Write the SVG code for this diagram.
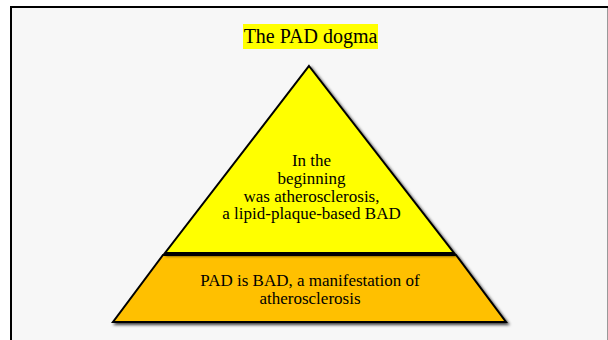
<svg xmlns="http://www.w3.org/2000/svg" width="608" height="340" viewBox="0 0 608 340">
  <defs>
    <filter id="shadow" x="-10%" y="-10%" width="120%" height="120%">
      <feDropShadow dx="2" dy="2" stdDeviation="1.5" flood-color="#000" flood-opacity="0.75"/>
    </filter>
  </defs>
  <style>
    .t { font-family: "Liberation Serif", "Times New Roman", serif; fill: #000; text-anchor: middle; }
    .body { font-size: 17px; }
    .shape { stroke: #000; stroke-width: 2; stroke-linejoin: miter; filter: url(#shadow); }
  </style>
  <rect x="0" y="0" width="608" height="340" fill="#ffffff"/>
  <rect x="11" y="7" width="596" height="340" fill="#f7f7f7"/>
  <line x1="10" y1="7" x2="608" y2="7" stroke="#000" stroke-width="2"/>
  <line x1="11" y1="6" x2="11" y2="340" stroke="#000" stroke-width="2"/>
  <line x1="607.5" y1="8" x2="607.5" y2="340" stroke="#999" stroke-width="1"/>

  <g id="title">
    <rect x="243" y="24" width="135" height="25" fill="#ffff00"/>
    <text class="t" x="310.5" y="43" font-size="20">The PAD dogma</text>
  </g>

  <g id="base">
    <polygon class="shape" points="163,255 456,255 506,322 113,322" fill="#ffc000"/>
    <text class="t body" x="310" y="286">PAD is BAD, a manifestation of</text>
    <text class="t body" x="310" y="304">atherosclerosis</text>
  </g>

  <g id="apex">
    <polygon class="shape" points="309,66 454,253 165,253" fill="#ffff00"/>
    <text class="t body" x="311.5" y="166">In the</text>
    <text class="t body" x="311.5" y="184">beginning</text>
    <text class="t body" x="311.5" y="202">was atherosclerosis,</text>
    <text class="t body" x="311.5" y="219">a lipid-plaque-based BAD</text>
  </g>
</svg>
